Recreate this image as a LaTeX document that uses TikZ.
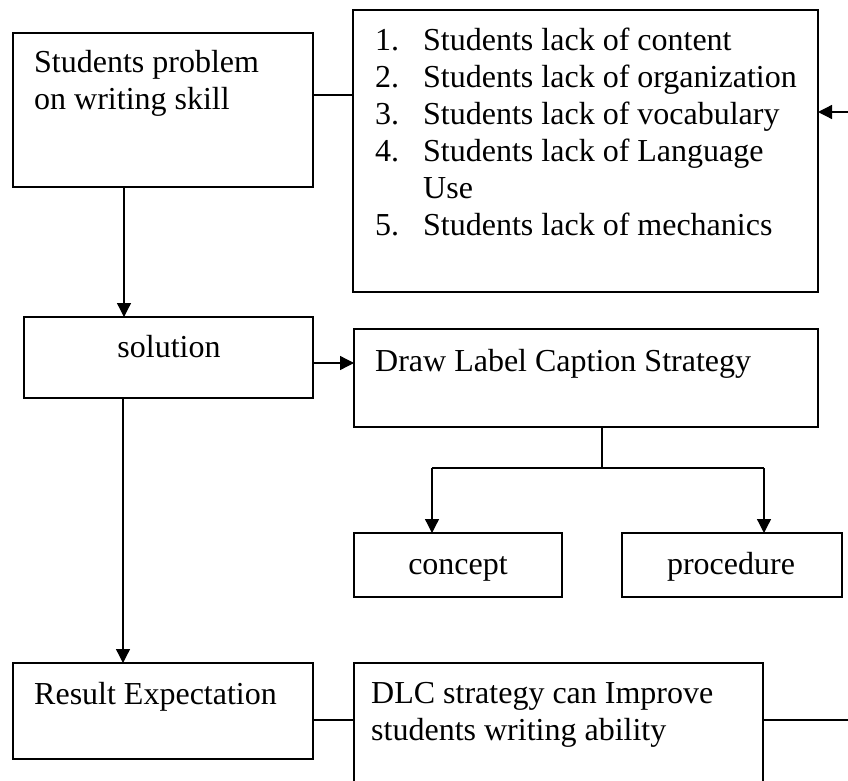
\documentclass[tikz,border=0pt]{standalone}
\usepackage{fontspec}
\setmainfont{Liberation Serif}
\usetikzlibrary{arrows.meta}
\tikzset{
  box/.style={draw, line width=1.4pt, inner sep=0pt, outer sep=0pt, anchor=north west},
  conn/.style={line width=1.3pt},
  arr/.style={conn, -{Triangle[length=14pt,width=14pt]}},
  txt/.style={inner sep=0pt, align=left, font=\fontsize{32}{37}\selectfont},
}
\newcommand{\numitem}[1]{\makebox[48pt][l]{#1}}
\begin{document}
\begin{tikzpicture}[x=1pt,y=-1pt]
\clip (0,0) rectangle (848,781);
\fill[white] (0,0) rectangle (848,781);
% boxes
\node[box, minimum width=300pt, minimum height=154pt] (b1) at (13,33) {};
\node[box, minimum width=465pt, minimum height=282pt] (b2) at (353,10) {};
\node[box, minimum width=289pt, minimum height=81pt] (sol) at (24,317) {};
\node[box, minimum width=464pt, minimum height=98pt] (dlc) at (354,329) {};
\node[box, minimum width=208pt, minimum height=64pt] (con) at (354,533) {};
\node[box, minimum width=220pt, minimum height=64pt] (pro) at (622,533) {};
\node[box, minimum width=300pt, minimum height=96pt] (res) at (13,663) {};
\node[box, minimum width=409pt, minimum height=140pt] (dlc2) at (354,663) {};
% texts (base anchor = baseline of last line)
\node[txt, anchor=base west] (t1) at (34,110) {Students problem\\on writing skill};
\node[txt, anchor=base west] (t2) at (375,235) {\numitem{1.}Students lack of content\\
\numitem{2.}Students lack of organization\\
\numitem{3.}Students lack of vocabulary\\
\numitem{4.}Students lack of Language\\
\numitem{}Use\\
\numitem{5.}Students lack of mechanics};
\node[txt, anchor=base] (t3) at (169,357) {solution};
\node[txt, anchor=base west] (t4) at (375,371) {Draw Label Caption Strategy};
\node[txt, anchor=base] (t5) at (458,574) {concept};
\node[txt, anchor=base] (t6) at (731,574) {procedure};
\node[txt, anchor=base west] (t7) at (34,704) {Result Expectation};
\node[txt, anchor=base west] (t8) at (371,740) {DLC strategy can Improve\\students writing ability};
% helper coordinates
\coordinate (y95) at (0,95);
\coordinate (x124) at (124,0);
\coordinate (x123) at (123,0);
\coordinate (y363) at (0,363);
\coordinate (j) at (602,468);
\coordinate (cl) at (432,468);
\coordinate (cr) at (764,468);
\coordinate (y720) at (0,720);
\coordinate (rt) at (850,720);
\coordinate (rin) at (850,112);
% connectors
\draw[conn] (b1.east |- y95) -- (b2.west |- y95);
\draw[arr] (b1.south -| x124) -- (sol.north -| x124);
\draw[arr] (sol.east |- y363) -- (dlc.west |- y363);
\draw[arr] (sol.south -| x123) -- (res.north -| x123);
\draw[conn] (dlc.south -| j) -- (j);
\draw[conn] (cl) -- (cr);
\draw[arr] (cl) -- (con.north -| cl);
\draw[arr] (cr) -- (pro.north -| cr);
\draw[conn] (res.east |- y720) -- (dlc2.west |- y720);
\draw[conn] (dlc2.east |- y720) -- (rt);
\draw[arr] (rin) -- (b2.east |- rin);
\end{tikzpicture}
\end{document}
